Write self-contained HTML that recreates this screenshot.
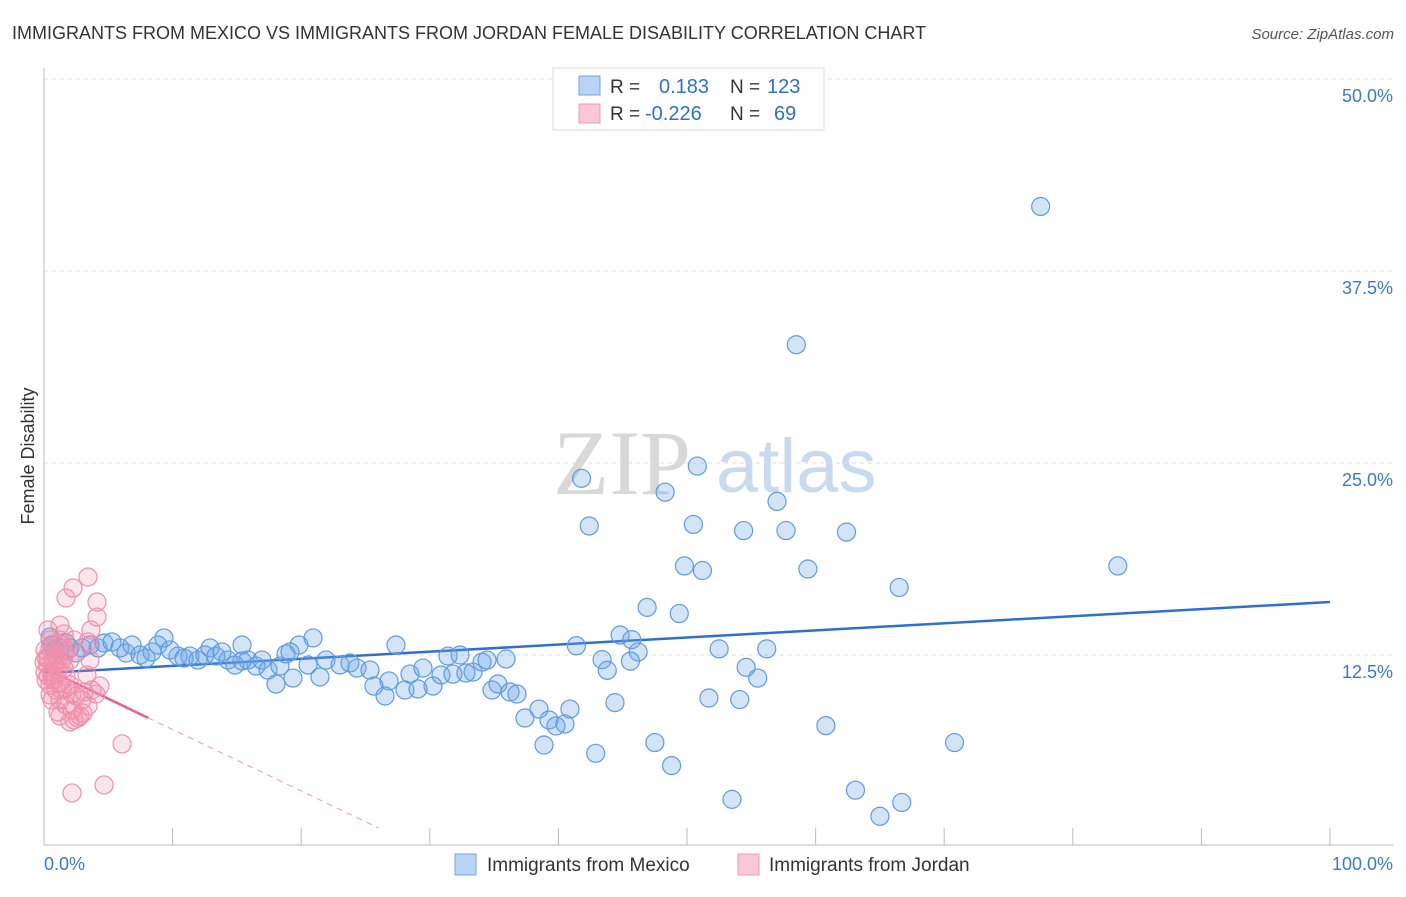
<!DOCTYPE html>
<html><head><meta charset="utf-8"><style>
body{margin:0;background:#fff;font-family:"Liberation Sans",sans-serif;}
</style></head><body>
<svg id="chart" width="1406" height="892" xmlns="http://www.w3.org/2000/svg" font-family="Liberation Sans, sans-serif">
<text x="12" y="39" font-size="18" fill="#333">IMMIGRANTS FROM MEXICO VS IMMIGRANTS FROM JORDAN FEMALE DISABILITY CORRELATION CHART</text>
<text x="1394" y="39" font-size="15" fill="#555" text-anchor="end" font-style="italic">Source: ZipAtlas.com</text>
<g>
<text x="553" y="494" font-size="92" fill="#d8d8d8" font-family="Liberation Serif, serif">ZIP</text>
<text x="716" y="492" font-size="76" fill="#c8daf0">atlas</text>
</g>
<g id="grid"></g>
<g id="axes"></g>
<g id="lines"></g>
<g id="pts"></g>
<text transform="translate(34,456) rotate(-90)" font-size="18" fill="#333" text-anchor="middle">Female Disability</text>
<g>
<rect x="553" y="68" width="271" height="62" fill="#fff" stroke="#ddd"/>
<rect x="579" y="76" width="21" height="19" fill="#b9d4f5" stroke="#6fa5e6"/>
<rect x="579" y="104" width="21" height="19" fill="#fac7d7" stroke="#f29ab6"/>
<text x="610" y="93" font-size="19" fill="#333">R =</text>
<text x="659" y="93" font-size="20" fill="#2f6fd0">0.183</text>
<text x="730" y="93" font-size="19" fill="#333">N =</text>
<text x="767" y="93" font-size="20" fill="#2f6fd0">123</text>
<text x="610" y="120" font-size="19" fill="#333">R =</text>
<text x="645" y="120" font-size="20" fill="#2f6fd0">-0.226</text>
<text x="730" y="120" font-size="19" fill="#333">N =</text>
<text x="774" y="120" font-size="20" fill="#2f6fd0">69</text>
</g>
<g>
<rect x="455" y="854" width="21" height="21" fill="#b9d4f5" stroke="#6fa5e6"/>
<text x="487" y="871" font-size="19" fill="#333">Immigrants from Mexico</text>
</g>
<g>
<rect x="738" y="854" width="21" height="21" fill="#fac7d7" stroke="#f29ab6"/>
<text x="769" y="871" font-size="19" fill="#333">Immigrants from Jordan</text>
</g>
</svg>
<script>
const yTicks=[12.5,25,37.5,50];
const yTickLabels=["12.5%","25.0%","37.5%","50.0%"];
const xTickVals=[0,10,20,30,40,50,60,70,80,90,100];
const xLabels=["0.0%","100.0%"];
const mexicoX=[77.5,58.5,41.8,50.8,48.3,57.0,42.4,50.5,54.4,57.7,62.4,49.8,51.2,59.4,83.5,66.5,46.9,49.4,44.8,45.7,41.4,46.2,52.5,56.2,43.4,45.6,54.6,43.8,55.5,51.7,54.1,44.4,60.8,70.8,47.5,42.9,48.8,53.5,63.1,66.7,65.0,
0.47,0.62,0.86,1.24,1.71,2.02,2.49,2.95,3.58,4.20,4.67,5.29,5.91,6.38,6.84,7.47,7.93,8.40,8.86,9.33,9.80,10.42,10.89,11.35,11.98,12.52,12.91,13.37,13.84,14.31,14.85,15.40,15.86,16.49,16.95,17.42,18.35,18.82,15.40,
27.37,20.92,19.83,19.13,21.93,23.79,20.53,23.02,24.34,25.35,21.46,19.36,18.04,25.66,26.52,26.83,28.07,28.46,29.08,29.47,30.25,30.87,31.42,32.35,31.80,32.81,33.36,34.06,34.45,35.93,34.84,35.30,36.24,36.78,37.40,38.49,39.27,39.81,40.51,40.90,38.88];
const mexicoY=[41.7,32.7,24.0,24.8,23.1,22.5,20.9,21.0,20.6,20.6,20.5,18.3,18.0,18.1,18.3,16.9,15.6,15.2,13.8,13.5,13.1,12.7,12.9,12.9,12.2,12.1,11.7,11.5,11.0,9.7,9.6,9.4,7.9,6.8,6.8,6.1,5.3,3.1,3.7,2.9,2.0,
13.67,13.15,12.83,12.96,13.28,12.96,12.63,12.96,13.15,12.96,13.28,13.35,12.96,12.63,13.15,12.5,12.3,12.7,13.15,13.61,12.83,12.43,12.3,12.43,12.17,12.5,12.96,12.43,12.7,12.17,11.85,13.15,12.17,11.78,12.17,11.52,11.78,12.57,12.11,
13.15,13.61,13.15,12.7,12.17,11.98,11.85,11.85,11.65,11.52,11.07,11.0,10.61,10.48,9.83,10.81,10.22,11.26,10.29,11.65,10.48,11.2,12.43,12.5,11.26,11.33,11.39,12.04,12.17,12.24,10.22,10.61,10.09,9.96,8.4,8.98,8.27,7.88,8.01,8.98,6.64];
const jordanX=[3.42,2.26,1.71,4.12,4.12,3.65,3.42,1.56,0.31,1.24,0.47,0.86,1.40,0.31,1.09,0.62,0.16,1.24,2.02,3.34,4.35,3.73,2.95,0.93,0.47,1.24,1.71,1.09,2.18,2.80,2.33,2.02,2.64,3.03,6.07,2.18,4.67,0.08,0.31,0.78,1.56,0.93,1.87,0.47,0.08,1.24,0.62,1.71,2.49,3.42,3.11,0.47,1.40,0.16,1.09,1.71,0.78,0,1.40,2.33,2.02,0.31,0.93,1.56,2.18,3.58,1.24,4.04,0.62];
const jordanY=[17.58,16.86,16.21,15.95,14.97,14.13,13.35,13.87,14.13,13.48,12.96,12.5,12.17,11.85,11.52,11.2,10.87,10.68,10.55,11.2,10.48,10.22,9.57,10.22,9.9,9.57,9.24,8.79,8.92,8.53,8.27,8.14,8.4,8.72,6.71,3.52,4.04,11.39,12.3,12.04,11.65,13.15,12.83,13.48,12.83,14.45,11.39,10.35,9.83,9.18,10.09,10.55,10.22,12.3,12.17,11.13,10.87,12.04,13.15,13.48,12.17,11.13,11.91,12.43,9.96,12.17,8.53,9.96,9.57];
const mexicoTrend=[11.33,15.95]; // y at x=0 and x=100
const jordanTrend=[11.65,-0.40]; // intercept, slope
const jordanSolidEnd=8.1, jordanDashEnd=26;

const NS="http://www.w3.org/2000/svg";
const X0=44,X1=1330,Y0=847,YS=15.36;
const sx=v=>X0+(X1-X0)*v/100;
const sy=v=>Y0-v*YS;
function mk(tag,attrs,parent){const e=document.createElementNS(NS,tag);for(const k in attrs)e.setAttribute(k,attrs[k]);document.getElementById(parent).appendChild(e);return e;}

yTicks.forEach((t,i)=>{
 const l=mk('line',{x1:44,x2:1393,y1:sy(t),y2:sy(t),stroke:'#ddd','stroke-dasharray':'4,4'},'grid');
 
 
 const tx=mk('text',{x:1393,y:sy(t)+23,'font-size':18,fill:'#3a78d4','text-anchor':'end'},'grid');
 tx.textContent=yTickLabels[i];
 
 
});
const ax=mk('line',{x1:44,x2:1393,y1:845,y2:845,stroke:'#bbb'},'axes');


const ay=mk('line',{x1:44,x2:44,y1:68,y2:845,stroke:'#bbb'},'axes');


xTickVals.forEach(v=>{
 const t=mk('line',{x1:sx(v),x2:sx(v),y1:828,y2:845,stroke:'#bbb'},'axes');
 
 
});
const xl0=mk('text',{x:44,y:870,'font-size':18,fill:'#3a78d4'},'axes');xl0.textContent=xLabels[0];


const xl1=mk('text',{x:1393,y:870,'font-size':18,fill:'#3a78d4','text-anchor':'end'},'axes');xl1.textContent=xLabels[1];



mexicoX.forEach((x,i)=>{
 const c=mk('circle',{cx:sx(x),cy:sy(mexicoY[i]),r:9,fill:'rgba(110,165,230,0.3)',stroke:'#5d9be3','stroke-width':1.2},'pts');
 
 
});
jordanX.forEach((x,i)=>{
 const c=mk('circle',{cx:sx(x),cy:sy(jordanY[i]),r:9,fill:'rgba(242,140,170,0.22)',stroke:'#f08fae','stroke-width':1.2},'pts');
 
 
});
const bl=mk('line',{x1:sx(0),y1:sy(mexicoTrend[0]),x2:sx(100),y2:sy(mexicoTrend[1]),stroke:'#2f6fd0','stroke-width':2.5},'lines');


const jf=x=>jordanTrend[0]+jordanTrend[1]*x;
const pl=mk('line',{x1:sx(0),y1:sy(jf(0)),x2:sx(jordanSolidEnd),y2:sy(jf(jordanSolidEnd)),stroke:'#e8608a','stroke-width':2.5},'lines');


const pd=mk('line',{x1:sx(jordanSolidEnd),y1:sy(jf(jordanSolidEnd)),x2:sx(jordanDashEnd),y2:sy(jf(jordanDashEnd)),stroke:'#f09ab5','stroke-width':1,'stroke-dasharray':'6,5'},'lines');


</script>
</body></html>
